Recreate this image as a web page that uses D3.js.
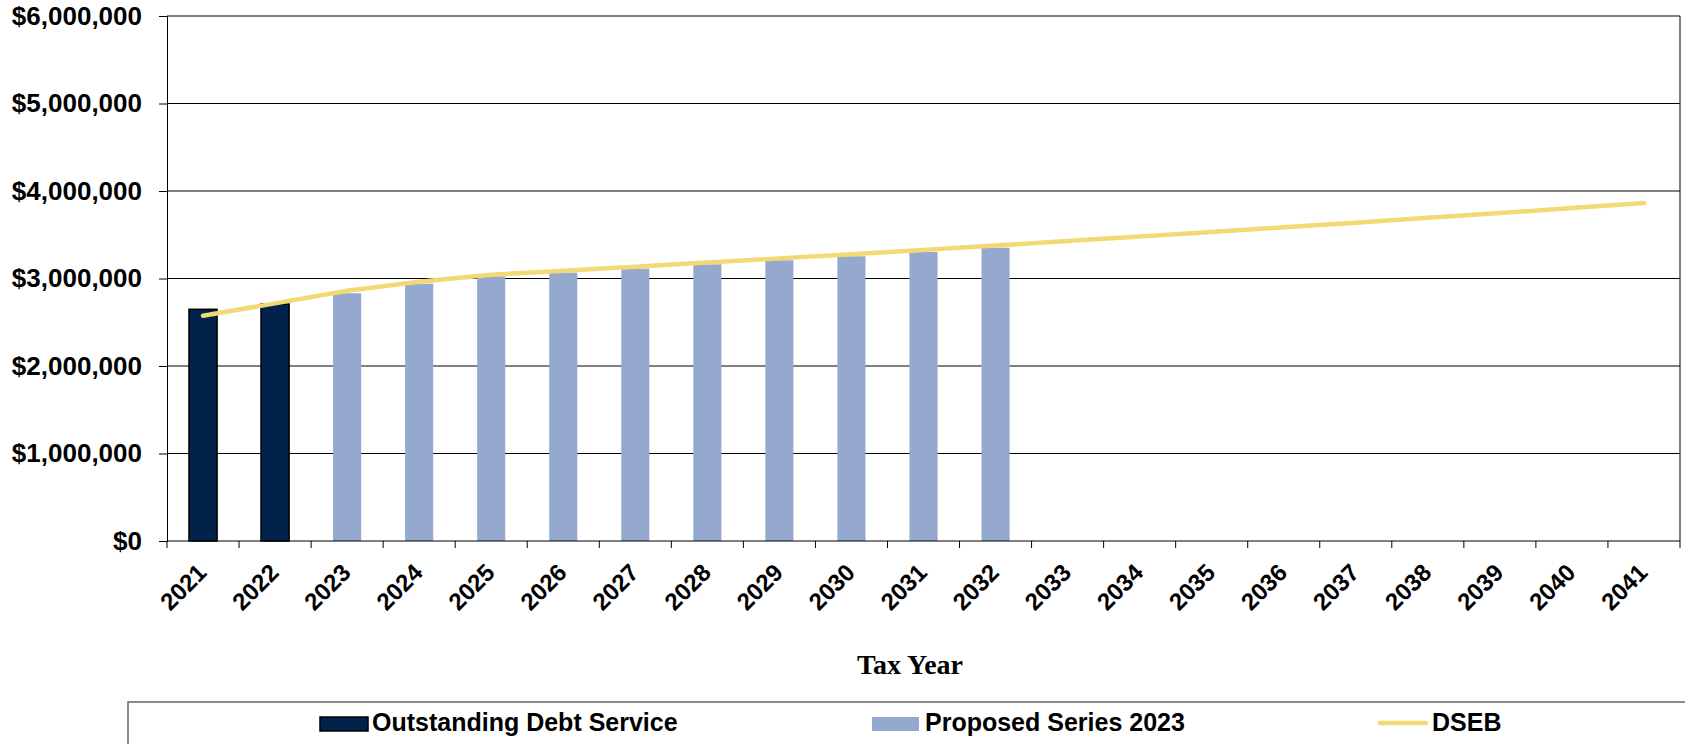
<!DOCTYPE html>
<html>
<head>
<meta charset="utf-8">
<script src="https://cdn.jsdelivr.net/npm/d3@7"></script>
<style>
  body { margin: 0; background: #fff; }
  svg { display: block; }
</style>
</head>
<body>
<div id="chart"></div>
<script>
// chart values
const years = ["2021", "2022", "2023", "2024", "2025", "2026", "2027", "2028", "2029", "2030",
  "2031", "2032", "2033", "2034", "2035", "2036", "2037", "2038", "2039", "2040", "2041"];
const outstanding = [2648000, 2709000];
const proposedYears = ["2023", "2024", "2025", "2026", "2027", "2028", "2029", "2030", "2031", "2032"];
const proposed = [2831000, 2940000, 3025000, 3067000, 3113000, 3162000, 3208000, 3254000, 3303000, 3352000];
const dseb = [2575000, 2716000, 2861000, 2964000, 3043000, 3089000, 3135000, 3182000, 3230000, 3278000,
  3327000, 3377000, 3428000, 3479000, 3532000, 3585000, 3638000, 3693000, 3748000, 3805000, 3862000];
const yTicks = [0, 1000000, 2000000, 3000000, 4000000, 5000000, 6000000];
const legendLabels = ["Outstanding Debt Service", "Proposed Series 2023", "DSEB"];

const width = 1685;
const height = 744;
const margin = { top: 16, right: 5, bottom: 203, left: 167 };

const colorDark = "#01224a";
const colorLight = "#95a9cf";
const colorLine = "#f2d973";
const sans = "'Liberation Sans', Arial, sans-serif";

const svg = d3.select("#chart")
  .append("svg")
  .attr("width", width)
  .attr("height", height);

const x = d3.scaleBand()
  .domain(years)
  .range([margin.left, width - margin.right])
  .padding(0);

const y = d3.scaleLinear()
  .domain([0, 6000000])
  .range([height - margin.bottom, margin.top]);

const barW = x.bandwidth() * 0.39;
const cx = (d) => x(d) + x.bandwidth() / 2;

// gridlines
svg.append("g")
  .selectAll("line")
  .data(yTicks.slice(1))
  .join("line")
  .attr("x1", margin.left)
  .attr("x2", width - margin.right)
  .attr("y1", (d) => y(d))
  .attr("y2", (d) => y(d))
  .attr("stroke", "#000")
  .attr("stroke-width", 1);

// right border
svg.append("line")
  .attr("x1", width - margin.right)
  .attr("x2", width - margin.right)
  .attr("y1", y(6000000))
  .attr("y2", y(0))
  .attr("stroke", "#000");

// Y axis
const yAxis = svg.append("g")
  .attr("transform", `translate(${margin.left},0)`)
  .call(d3.axisLeft(y).tickValues(yTicks).tickFormat(d3.format("$,")).tickSize(8).tickPadding(17));
yAxis.select(".domain").attr("stroke", "#000");
yAxis.selectAll(".tick line").attr("stroke", "#000");
yAxis.selectAll("text")
  .style("font-family", sans)
  .style("font-weight", "bold")
  .style("font-size", "26px")
  .attr("fill", "#000");

// Outstanding bars
svg.append("g")
  .selectAll("rect")
  .data(outstanding)
  .join("rect")
  .attr("x", (d, i) => cx(years[i]) - barW / 2)
  .attr("y", (d) => y(d))
  .attr("width", barW)
  .attr("height", (d) => y(0) - y(d))
  .attr("fill", colorDark)
  .attr("stroke", "#000")
  .attr("stroke-width", 1.5);

// Proposed bars
svg.append("g")
  .selectAll("rect")
  .data(proposed)
  .join("rect")
  .attr("x", (d, i) => cx(proposedYears[i]) - barW / 2)
  .attr("y", (d) => y(d))
  .attr("width", barW)
  .attr("height", (d) => y(0) - y(d))
  .attr("fill", colorLight);

// X axis line and ticks at category edges
svg.append("line")
  .attr("x1", margin.left)
  .attr("x2", width - margin.right)
  .attr("y1", y(0))
  .attr("y2", y(0))
  .attr("stroke", "#000");

svg.append("g")
  .selectAll("line")
  .data(years.concat(["end"]))
  .join("line")
  .attr("x1", (d, i) => margin.left + i * x.step())
  .attr("x2", (d, i) => margin.left + i * x.step())
  .attr("y1", y(0))
  .attr("y2", y(0) + 7)
  .attr("stroke", "#000");

// year labels
svg.append("g")
  .selectAll("text")
  .data(years)
  .join("text")
  .attr("transform", (d) => `translate(${cx(d) + 5},${y(0) + 33}) rotate(-45)`)
  .style("text-anchor", "end")
  .style("font-family", sans)
  .style("font-weight", "bold")
  .style("font-size", "24px")
  .text((d) => d);

// DSEB line
const line = d3.line()
  .x((d, i) => cx(years[i]))
  .y((d) => y(d));

svg.append("path")
  .datum(dseb)
  .attr("d", line)
  .attr("fill", "none")
  .attr("stroke", colorLine)
  .attr("stroke-width", 4.5)
  .attr("stroke-linecap", "round")
  .attr("stroke-linejoin", "round");

// axis title
svg.append("text")
  .attr("x", 910)
  .attr("y", 674)
  .style("text-anchor", "middle")
  .style("font-family", "'Liberation Serif', 'Times New Roman', serif")
  .style("font-weight", "bold")
  .style("font-size", "28px")
  .text("Tax Year");

// legend box
svg.append("rect")
  .attr("x", 128)
  .attr("y", 702)
  .attr("width", 1600)
  .attr("height", 80)
  .attr("fill", "none")
  .attr("stroke", "#666")
  .attr("stroke-width", 1.5);

const legend = svg.append("g");

legend.append("rect")
  .attr("x", 320)
  .attr("y", 717)
  .attr("width", 48)
  .attr("height", 14)
  .attr("fill", colorDark)
  .attr("stroke", "#000")
  .attr("stroke-width", 1.5);

legend.append("rect")
  .attr("x", 872)
  .attr("y", 717)
  .attr("width", 47)
  .attr("height", 14)
  .attr("fill", colorLight);

legend.append("line")
  .attr("x1", 1380)
  .attr("x2", 1426)
  .attr("y1", 723)
  .attr("y2", 723)
  .attr("stroke", colorLine)
  .attr("stroke-width", 4.5)
  .attr("stroke-linecap", "round");

legend.selectAll("text")
  .data(legendLabels)
  .join("text")
  .attr("x", (d, i) => [372, 925, 1432][i])
  .attr("y", 731)
  .style("font-family", sans)
  .style("font-weight", "bold")
  .style("font-size", "25px")
  .text((d) => d);
</script>
</body>
</html>
